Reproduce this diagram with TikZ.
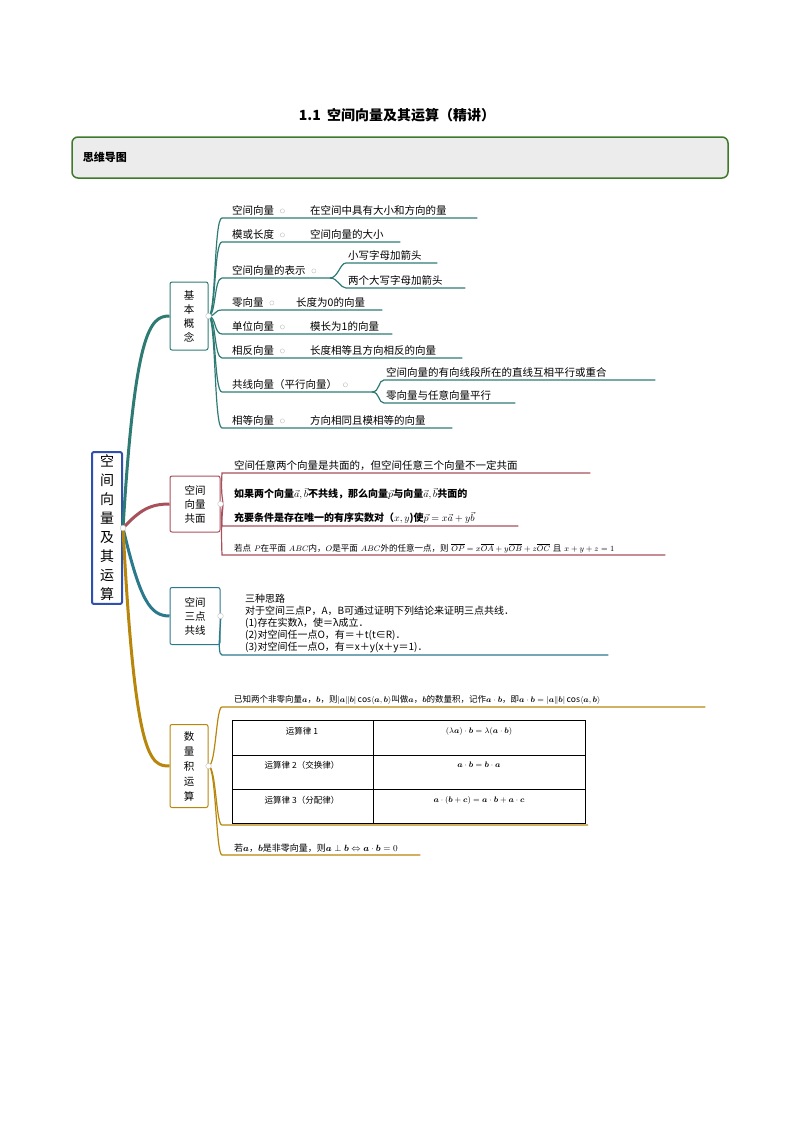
\documentclass[tikz,border=0pt]{standalone}
\usepackage{fontspec}
\usepackage{amsmath}
\setmainfont{Noto Sans CJK SC}
\usetikzlibrary{positioning}
\definecolor{gbox}{HTML}{3F7A2C}
\definecolor{cteal}{HTML}{2E7B74}
\definecolor{cred}{HTML}{A8505C}
\definecolor{cblue}{HTML}{2B7A8C}
\definecolor{cgold}{HTML}{B8860B}
\definecolor{croot}{HTML}{3050B0}
\tikzset{
  topic/.style={draw, rounded corners=2pt, line width=1pt, align=center, font=\fontsize{10.5}{14}\selectfont, inner sep=3pt},
  lbl/.style={anchor=south west, inner xsep=10pt, inner ysep=2pt, font=\fontsize{10.5}{12}\selectfont},
  leaf/.style={anchor=south west, inner xsep=2pt, inner ysep=2pt, align=left, font=\fontsize{10.5}{12}\selectfont},
  twig/.style={line width=1.2pt},
  knob/.style={circle, draw=gray!50, fill=white, inner sep=2pt}
}
\begin{document}
\begin{tikzpicture}[x=1pt,y=-1pt]
\useasboundingbox (0,0) rectangle (794,1122);
% title
\node (title) at (397,115) {\fontsize{14}{16}\selectfont\bfseries 1.1\ \ 空间向量及其运算（精讲）};
\node (head) [draw=gbox, line width=1.5pt, rounded corners=6pt, fill=gray!15, minimum width=656pt, minimum height=41pt] at (400,157.5) {};
\node [anchor=west, font=\bfseries\fontsize{11}{13}\selectfont] at (head.west) [xshift=8pt] {思维导图};

% root and branches
\node (root) [topic, draw=croot, line width=2pt, font=\fontsize{14}{19}\selectfont, minimum height=137pt, minimum width=30pt] at (107,528) {空\\间\\向\\量\\及\\其\\运\\算};
\node (basic) [topic, draw=cteal, minimum width=38pt, minimum height=68pt] at (189,316) {基\\本\\概\\念};
\node (plane) [topic, draw=cred, minimum width=50pt, minimum height=56pt] at (195,504) {空间\\向量\\共面};
\node (line) [topic, draw=cblue, minimum width=50pt, minimum height=57pt] at (195,616) {空间\\三点\\共线};
\node (dot) [topic, draw=cgold, minimum width=38pt, minimum height=83pt, font=\fontsize{10.5}{15}\selectfont] at (189,766) {数\\量\\积\\运\\算};

\draw [cteal, line width=3pt] (root.east) .. controls (135,330) and (150,316) .. (basic.west);
\draw [cred, line width=3pt] (root.east) .. controls (140,510) and (150,504) .. (plane.west);
\draw [cblue, line width=3pt] (root.east) .. controls (140,600) and (150,616) .. (line.west);
\draw [cgold, line width=3pt] (root.east) .. controls (135,760) and (150,766) .. (dot.west);
\node [knob] at (root.east) {};

% basic concepts
\foreach \n/\y/\t/\cx/\c/\e in {a/218/空间向量/308/在空间中具有大小和方向的量/477,
  b/242/模或长度/308/空间向量的大小/400,
  d/310/零向量/294/长度为0的向量/382,
  e/334/单位向量/308/模长为1的向量/392,
  f/358/相反向量/308/长度相等且方向相反的向量/462,
  h/428/相等向量/308/方向相同且模相等的向量/452}{
  \node (l\n) [lbl] at (222,\y) {\t};
  \node (c\n) [leaf, text width=\e-\cx-4 pt] at (\cx,\y) {\c};
  \draw [cteal, twig] (basic.east) .. controls (216,316) and (214,\y) .. (l\n.south west) -- (c\n.south east);
  \node [knob, inner sep=1.5pt] at ([xshift=-2pt]l\n.east) {};
}
\foreach \n/\y/\t/\k/\cx/\ya/\ca/\ea/\yb/\cb/\eb in {c/278/空间向量的表示/330/346/263/小写字母加箭头/437/288/两个大写字母加箭头/465,
  g/392/共线向量（平行向量）/372/384/380/空间向量的有向线段所在的直线互相平行或重合/655/403/零向量与任意向量平行/515}{
  \node (l\n) [lbl] at (222,\y) {\t};
  \coordinate (k\n) at (\k,\y);
  \node (c\n1) [leaf, text width=\ea-\cx-4 pt] at (\cx,\ya) {\ca};
  \node (c\n2) [leaf, text width=\eb-\cx-4 pt] at (\cx,\yb) {\cb};
  \draw [cteal, twig] (basic.east) .. controls (216,316) and (214,\y) .. (l\n.south west) -- (k\n);
  \draw [cteal, twig] (k\n) .. controls (\k+8,\y) and (\cx-6,\ya) .. (c\n1.south west) -- (c\n1.south east);
  \draw [cteal, twig] (k\n) .. controls (\k+8,\y) and (\cx-6,\yb) .. (c\n2.south west) -- (c\n2.south east);
  \node [knob, inner sep=1.5pt] at ([xshift=-2pt]l\n.east) {};
}
\node [knob] at (basic.east) {};

% coplanar
\node (p1) [leaf, text width=354pt] at (232,473) {空间任意两个向量是共面的，但空间任意三个向量不一定共面};
\node (p2) [leaf, font=\bfseries\fontsize{10}{24}\selectfont, text width=282pt] at (232,526)
  {如果两个向量$\vec a,\vec b$不共线，那么向量$\vec p$与向量$\vec a,\vec b$共面的\\充要条件是存在唯一的有序实数对（$x,y$)使$\vec p=x\vec a+y\vec b$};
\node (p3) [leaf, font=\fontsize{8.5}{10}\selectfont, text width=429pt] at (232,555)
  {若点 $P$在平面 $ABC$内，$O$是平面 $ABC$外的任意一点，则 $\overline{OP}=x\overline{OA}+y\overline{OB}+z\overline{OC}$ 且 $x+y+z=1$};
\foreach \p in {p1,p2,p3}
  \draw [cred, twig] (plane.east) .. controls (226,504) and (220,504) .. ([xshift=-10pt]\p.south west) -- (\p.south east);
\node [knob] at (plane.east) {};

% collinear
\node (q1) [leaf, font=\fontsize{10}{12}\selectfont, text width=340pt, inner xsep=23pt] at (222,655)
  {三种思路\\对于空间三点P，A，B可通过证明下列结论来证明三点共线．\\(1)存在实数λ，使＝λ成立．\\(2)对空间任一点O，有＝＋t(t∈R)．\\(3)对空间任一点O，有＝x＋y(x＋y＝1)．};
\draw [cblue, twig] (line.east) .. controls (222,616) and (216,655) .. (q1.south west) -- (q1.south east);
\node [knob] at (line.east) {};

% dot product
\node (r1) [leaf, font=\fontsize{8.5}{10}\selectfont, text width=459pt, inner xsep=12pt] at (222,707)
  {已知两个非零向量$\boldsymbol a$，$\boldsymbol b$，则$|\boldsymbol a\|\boldsymbol b|\cos\langle \boldsymbol a,\boldsymbol b\rangle$叫做$\boldsymbol a$，$\boldsymbol b$的数量积，记作$\boldsymbol a\cdot \boldsymbol b$，即$\boldsymbol a\cdot\boldsymbol b=|\boldsymbol a\|\boldsymbol b|\cos\langle \boldsymbol a,\boldsymbol b\rangle$};
\node (tab) [anchor=north west, draw, line width=0.6pt, minimum width=353pt, minimum height=103pt, inner sep=0pt] at (232,720) {};
\draw (373,720) -- (373,823) (232,755) -- (585,755) (232,789) -- (585,789);
\begin{scope}[font=\fontsize{8.5}{10}\selectfont]
\node at (302,731) {运算律 1};
\node at (479,731) {$(\lambda\boldsymbol a)\cdot\boldsymbol b=\lambda(\boldsymbol a\cdot\boldsymbol b)$};
\node at (302,765) {运算律 2（交换律）};
\node at (479,765) {$\boldsymbol a\cdot\boldsymbol b=\boldsymbol b\cdot\boldsymbol a$};
\node at (302,800) {运算律 3（分配律）};
\node at (479,800) {$\boldsymbol a\cdot(\boldsymbol b+\boldsymbol c)=\boldsymbol a\cdot\boldsymbol b+\boldsymbol a\cdot\boldsymbol c$};
\end{scope}
\node (r3) [leaf, font=\fontsize{9}{10}\selectfont, text width=174pt, inner xsep=12pt] at (222,855)
  {若$\boldsymbol a$，$\boldsymbol b$是非零向量，则$\boldsymbol a\perp\boldsymbol b\Leftrightarrow\boldsymbol a\cdot\boldsymbol b=0$};
\draw [cgold, twig] (dot.east) .. controls (216,766) and (216,707) .. (r1.south west) -- (r1.south east);
\draw [cgold, twig] (dot.east) .. controls (216,766) and (216,825) .. (222,825) -- (588,825);
\draw [cgold, twig] (dot.east) .. controls (216,766) and (216,855) .. (r3.south west) -- (r3.south east);
\node [knob] at (dot.east) {};
\end{tikzpicture}
\end{document}
